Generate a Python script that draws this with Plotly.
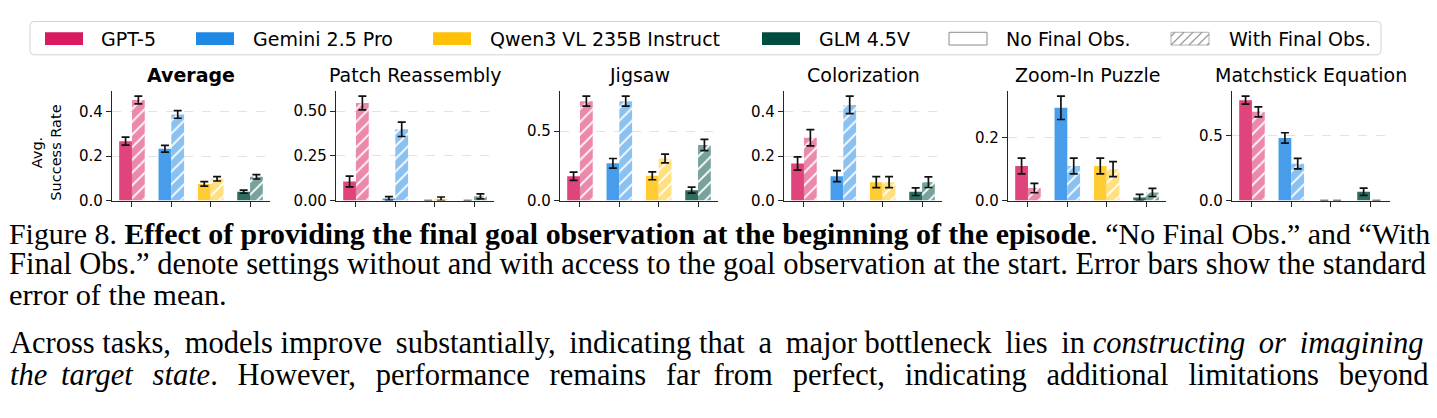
import plotly.graph_objects as go

W, H = 1437, 418

# ---------------- data ----------------
models = ["GPT-5", "Gemini 2.5 Pro", "Qwen3 VL 235B Instruct", "GLM 4.5V"]
model_colors = ["#D81B60", "#1E88E5", "#FFC107", "#004D40"]
conditions = ["No Final Obs.", "With Final Obs."]
tasks = ["Average", "Patch Reassembly", "Jigsaw", "Colorization", "Zoom-In Puzzle", "Matchstick Equation"]

avg_no = [0.267, 0.233, 0.075, 0.040]
avg_no_se = [0.018, 0.015, 0.010, 0.007]
avg_with = [0.452, 0.387, 0.098, 0.107]
avg_with_se = [0.017, 0.017, 0.010, 0.010]

patch_no = [0.107, 0.012, 0.0, 0.0]
patch_no_se = [0.030, 0.010, 0.0, 0.0]
patch_with = [0.545, 0.398, 0.010, 0.024]
patch_with_se = [0.038, 0.040, 0.010, 0.014]

jig_no = [0.175, 0.268, 0.178, 0.075]
jig_no_se = [0.030, 0.035, 0.028, 0.022]
jig_with = [0.715, 0.715, 0.303, 0.400]
jig_with_se = [0.036, 0.036, 0.032, 0.040]

col_no = [0.167, 0.110, 0.083, 0.040]
col_no_se = [0.030, 0.025, 0.025, 0.017]
col_with = [0.283, 0.431, 0.083, 0.083]
col_with_se = [0.037, 0.039, 0.025, 0.024]

zoom_no = [0.110, 0.295, 0.110, 0.010]
zoom_no_se = [0.025, 0.037, 0.025, 0.010]
zoom_with = [0.040, 0.110, 0.100, 0.026]
zoom_with_se = [0.015, 0.025, 0.024, 0.013]

match_no = [0.770, 0.480, 0.0, 0.068]
match_no_se = [0.030, 0.040, 0.0, 0.028]
match_with = [0.680, 0.283, 0.0, 0.0]
match_with_se = [0.038, 0.040, 0.0, 0.0]

tick_vals = [[0, 0.2, 0.4], [0, 0.25, 0.5], [0, 0.5], [0, 0.2, 0.4], [0, 0.2], [0, 0.5]]
tick_text = [["0.0", "0.2", "0.4"], ["0.00", "0.25", "0.50"], ["0.0", "0.5"],
             ["0.0", "0.2", "0.4"], ["0.0", "0.2"], ["0.0", "0.5"]]

y_label = "Avg.<br>Success Rate"

caption_lines = [
    "Figure 8. <b>Effect of providing the final goal observation at the beginning of the episode</b>. \u201cNo Final Obs.\u201d and \u201cWith",
    "Final Obs.\u201d denote settings without and with access to the goal observation at the start. Error bars show the standard",
    "error of the mean.",
]
body_lines = [
    "Across tasks, models improve substantially, indicating that a major bottleneck lies in <i>constructing or imagining</i>",
    "<i>the target state</i>. However, performance remains far from perfect, indicating additional limitations beyond",
]

panel_data = [
    (avg_no, avg_no_se, avg_with, avg_with_se),
    (patch_no, patch_no_se, patch_with, patch_with_se),
    (jig_no, jig_no_se, jig_with, jig_with_se),
    (col_no, col_no_se, col_with, col_with_se),
    (zoom_no, zoom_no_se, zoom_with, zoom_with_se),
    (match_no, match_no_se, match_with, match_with_se),
]


# ---------------- helpers ----------------
def blend(hex_color, a):
    # colour drawn with opacity a over white, as an opaque hex colour
    h = hex_color.lstrip("#")
    rgb = [int(h[k:k + 2], 16) for k in (0, 2, 4)]
    out = [round(v * a + 255 * (1 - a)) for v in rgb]
    return "#%02x%02x%02x" % tuple(out)


def px_x(x):
    return x / W


def px_y(y):
    return 1 - y / H


def justify(text, n_thin):
    # widen inter-word gaps with thin spaces to mimic justified typesetting
    parts = text.split(" ")
    gaps = len(parts) - 1
    out = parts[0]
    for g in range(gaps):
        k = (n_thin * (g + 1)) // gaps - (n_thin * g) // gaps
        out += " " + "\u2009" * k + parts[g + 1]
    return out


SANS = "DejaVu Sans"
SERIF = "Liberation Serif"
AXC = "#262626"
ERR = dict(color="#111111", thickness=1.7, width=4)

fig = go.Figure()

panel_left0, panel_step, panel_w = 112, 224, 158
plot_top, plot_bottom = 93, 205

layout_axes = {}
annotations = []

solid_cols = [blend(c, 0.82) for c in model_colors]
light_cols = [blend(c, 0.52) for c in model_colors]

for i, (task, (no, no_se, wi, wi_se)) in enumerate(zip(tasks, panel_data)):
    xa = "x" if i == 0 else f"x{i+1}"
    ya = "y" if i == 0 else f"y{i+1}"
    for m, model in enumerate(models):
        fig.add_trace(go.Bar(
            x=[model], y=[no[m]], name=f"{model} – {conditions[0]}", offsetgroup="no",
            xaxis=xa, yaxis=ya, showlegend=False,
            marker=dict(color=solid_cols[m], line=dict(width=0)),
            error_y=dict(type="data", array=[no_se[m]], **ERR),
        ))
        fig.add_trace(go.Bar(
            x=[model], y=[wi[m]], name=f"{model} – {conditions[1]}", offsetgroup="with",
            xaxis=xa, yaxis=ya, showlegend=False,
            marker=dict(color=light_cols[m], line=dict(width=0),
                        pattern=dict(shape="/", fillmode="replace", fgcolor="#ffffff",
                                     bgcolor=light_cols[m], fgopacity=1, size=9, solidity=0.2)),
            error_y=dict(type="data", array=[wi_se[m]], **ERR),
        ))
    x0 = panel_left0 + panel_step * i
    x1 = x0 + panel_w
    top = 1.05 * max(max(a + b for a, b in zip(no, no_se)), max(a + b for a, b in zip(wi, wi_se)))
    xkey = "xaxis" if i == 0 else f"xaxis{i+1}"
    ykey = "yaxis" if i == 0 else f"yaxis{i+1}"
    layout_axes[xkey] = dict(
        domain=[px_x(x0), px_x(x1)], anchor=ya, range=[-0.5075, 3.5075],
        categoryorder="array", categoryarray=models,
        showticklabels=False, ticks="outside", ticklen=5, tickwidth=1.2, tickcolor=AXC,
        showline=True, linecolor=AXC, linewidth=1.2, showgrid=False, zeroline=False,
        fixedrange=True,
    )
    layout_axes[ykey] = dict(
        domain=[px_y(plot_bottom), px_y(plot_top)], anchor=xa, range=[0, top],
        tickmode="array", tickvals=tick_vals[i], ticktext=tick_text[i],
        ticks="outside", ticklen=5, tickwidth=1.2, tickcolor=AXC,
        showline=True, linecolor=AXC, linewidth=1.2,
        showgrid=True, gridcolor="#e3e3e3", griddash="dash", gridwidth=1,
        zeroline=False, tickfont=dict(family=SANS, size=15, color="black"),
        fixedrange=True,
    )
    title_txt = f"<b>{task}</b>" if i == 0 else task
    annotations.append(dict(
        text=title_txt, xref="paper", yref="paper", x=px_x((x0 + x1) / 2), y=px_y(77),
        xanchor="center", yanchor="middle", showarrow=False,
        font=dict(family=SANS, size=19, color="black"),
    ))

annotations.append(dict(
    text=y_label, xref="paper", yref="paper", x=px_x(47), y=px_y(156),
    xanchor="center", yanchor="middle", showarrow=False, textangle=-90,
    font=dict(family=SANS, size=14.5, color="black"),
))

# ---------------- legend (manual) ----------------
shapes = []
leg_x0, leg_x1, leg_y0, leg_y1, rad = 30, 1381, 22, 56, 4


def rounded_rect(x0, y0, x1, y1, r):
    pts = [
        f"M {px_x(x0 + r)},{px_y(y0)}",
        f"L {px_x(x1 - r)},{px_y(y0)}",
        f"Q {px_x(x1)},{px_y(y0)} {px_x(x1)},{px_y(y0 + r)}",
        f"L {px_x(x1)},{px_y(y1 - r)}",
        f"Q {px_x(x1)},{px_y(y1)} {px_x(x1 - r)},{px_y(y1)}",
        f"L {px_x(x0 + r)},{px_y(y1)}",
        f"Q {px_x(x0)},{px_y(y1)} {px_x(x0)},{px_y(y1 - r)}",
        f"L {px_x(x0)},{px_y(y0 + r)}",
        f"Q {px_x(x0)},{px_y(y0)} {px_x(x0 + r)},{px_y(y0)}",
        "Z",
    ]
    return " ".join(pts)


shapes.append(dict(type="path", xref="paper", yref="paper",
                   path=rounded_rect(leg_x0, leg_y0, leg_x1, leg_y1, rad),
                   line=dict(color="#d4d4d4", width=1), fillcolor="white", layer="above"))

leg_labels = models + conditions
swatch_x = [45, 196, 433, 762, 949, 1171]
text_x = [99, 251, 488, 817, 1004, 1227]
sw_w, sw_y0, sw_y1 = 38, 33, 46

for k, lab in enumerate(leg_labels):
    sx0 = swatch_x[k]
    sx1 = sx0 + sw_w
    if k < 4:
        shapes.append(dict(type="rect", xref="paper", yref="paper",
                           x0=px_x(sx0), x1=px_x(sx1), y0=px_y(sw_y1), y1=px_y(sw_y0),
                           line=dict(width=0), fillcolor=model_colors[k], layer="above"))
    else:
        shapes.append(dict(type="rect", xref="paper", yref="paper",
                           x0=px_x(sx0), x1=px_x(sx1), y0=px_y(sw_y1), y1=px_y(sw_y0),
                           line=dict(width=1, color="#8a8a8a" if k == 4 else "#b0b0b0"),
                           fillcolor="white", layer="above"))
        if k == 5:
            hgt = sw_y1 - sw_y0
            for j in range(-2, 6):
                xb = sx0 + j * 9
                xt = xb + hgt
                xs, ys, xe, ye = xb, sw_y1, xt, sw_y0
                if xs < sx0:
                    ys = sw_y1 - (sx0 - xs)
                    xs = sx0
                if xe > sx1:
                    ye = sw_y0 + (xe - sx1)
                    xe = sx1
                if xe <= xs:
                    continue
                shapes.append(dict(type="line", xref="paper", yref="paper",
                                   x0=px_x(xs), y0=px_y(ys), x1=px_x(xe), y1=px_y(ye),
                                   line=dict(color="#9a9a9a", width=1.2), layer="above"))
    annotations.append(dict(
        text=lab, xref="paper", yref="paper", x=px_x(text_x[k]), y=px_y(39.5),
        xanchor="left", yanchor="middle", showarrow=False,
        font=dict(family=SANS, size=19, color="black"),
    ))

# ---------------- caption and body text ----------------
cap_y = [239, 270, 301]
cap_size = [29.9, 30.5, 30.4]
cap_thin = [0, 0, 0]
for t, yy, sz, nt in zip(caption_lines, cap_y, cap_size, cap_thin):
    annotations.append(dict(
        text=justify(t, nt), xref="paper", yref="paper", x=px_x(7), y=px_y(yy),
        xanchor="left", yanchor="middle", showarrow=False,
        font=dict(family=SERIF, size=sz, color="black"),
    ))
body_y = [351, 383]
body_size = [30.5, 30.5]
body_thin = [9, 22]
for t, yy, sz, nt in zip(body_lines, body_y, body_size, body_thin):
    annotations.append(dict(
        text=justify(t, nt), xref="paper", yref="paper", x=px_x(8), y=px_y(yy),
        xanchor="left", yanchor="middle", showarrow=False,
        font=dict(family=SERIF, size=sz, color="black"),
    ))

fig.update_layout(
    width=W, height=H, margin=dict(l=0, r=0, t=0, b=0),
    paper_bgcolor="white", plot_bgcolor="white",
    barmode="group", bargap=0.35, bargroupgap=0,
    showlegend=False, annotations=annotations, shapes=shapes,
    **layout_axes,
)

fig.write_html("out.html")
